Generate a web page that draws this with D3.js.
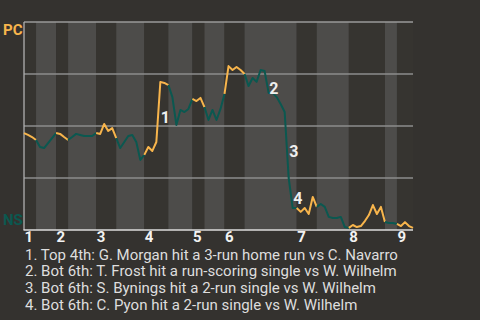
<!DOCTYPE html>
<html>
<head>
<meta charset="utf-8">
<script src="https://cdn.jsdelivr.net/npm/d3@7"></script>
<style>
  body { margin: 0; background: #34322f; }
  svg { display: block; font-family: Roboto, "Noto Sans", sans-serif; }
</style>
</head>
<body>
<svg id="chart" width="480" height="320"></svg>
<script>
// plays per half inning (top 1st .. top 9th)
var halfPlays = [3, 5, 3, 7, 5, 7, 6, 6, 3, 5, 5, 13, 5, 8, 9, 3, 4]
var innings = ["1", "2", "3", "4", "5", "6", "7", "8", "9"]
// PC win probability (%) after each play
var winProb = [
  46.6, 45.7, 44.7, 43.3, 39.9, 39.4, 41.8, 44.2, 46.6, 46.2,
  44.7, 43.3, 44.7, 46.2, 45.7, 45.2, 45.2, 45.2, 46.6, 46.2,
  51.0, 47.6, 49.0, 44.2, 39.4, 42.3, 45.2, 45.7, 42.3, 33.7,
  36.1, 39.9, 38.0, 42.3, 71.2, 70.7, 69.7, 63.9, 50.5, 57.7,
  56.7, 58.2, 63.0, 62.0, 63.5, 59.1, 52.9, 57.7, 52.9, 58.2,
  65.4, 78.8, 76.9, 78.4, 76.9, 75.0, 69.2, 73.1, 71.2, 76.9,
  76.4, 65.9, 65.9, 63.9, 60.6, 56.7, 25.0, 10.6, 10.6, 8.7,
  10.6, 7.7, 15.9, 11.1, 12.5, 11.1, 6.3, 5.8, 5.8, 6.3,
  1.4, 1.0, 2.4, 1.4, 1.9, 4.3, 7.2, 12.0, 7.7, 11.1,
  3.8, 3.4, 3.4, 2.9, 1.9, 3.8, 1.9, 1.0
]
var events = [34, 61, 66, 67]
var notes = [
  "1. Top 4th: G. Morgan hit a 3-run home run vs C. Navarro",
  "2. Bot 6th: T. Frost hit a run-scoring single vs W. Wilhelm",
  "3. Bot 6th: S. Bynings hit a 2-run single vs W. Wilhelm",
  "4. Bot 6th: C. Pyon hit a 2-run single vs W. Wilhelm"
]
var gridVals = [25, 50, 75, 100]

var orange = "#f8b54c", teal = "#0b5850"
var svg = d3.select("#chart")
var total = d3.sum(halfPlays)
var x = d3.scaleLinear().domain([0, total]).range([24, 413])
var y = d3.scaleLinear().domain([0, 100]).range([230, 22])

// half inning start indexes
var starts = [0]
halfPlays.forEach(function(n, i) { starts.push(starts[i] + n) })

// bands
svg.append("g").selectAll("rect").data(halfPlays).join("rect")
  .attr("x", function(d, i) { return x(starts[i]) })
  .attr("width", function(d, i) { return x(starts[i + 1]) - x(starts[i]) })
  .attr("y", y(100)).attr("height", y(0) - y(100))
  .attr("fill", function(d, i) { return i % 2 ? "#4d4c4a" : "#363430" })

// grid
svg.append("g").selectAll("line").data(gridVals).join("line")
  .attr("x1", x(0)).attr("x2", x(total))
  .attr("y1", function(d) { return y(d) }).attr("y2", function(d) { return y(d) })
  .attr("stroke", function(d) { return d == 100 ? "#9a9a9a" : "#8c8c8c" })
  .attr("stroke-width", 1.3)
svg.append("line").attr("x1", x(0)).attr("x2", x(0)).attr("y1", y(100)).attr("y2", y(0))
  .attr("stroke", "#b0b0b0").attr("stroke-width", 1.3)
svg.append("line").attr("x1", x(0) - 0.5).attr("x2", x(total)).attr("y1", y(0)).attr("y2", y(0))
  .attr("stroke", "#dcdcdc").attr("stroke-width", 1.5)

// line, coloured per half inning
var line = d3.line().x(function(d) { return x(d[0]) }).y(function(d) { return y(d[1]) })
halfPlays.forEach(function(n, h) {
  var pts = []
  for (var i = starts[h]; i <= starts[h + 1]; i++) pts.push([i, winProb[i]])
  svg.append("path").attr("d", line(pts)).attr("fill", "none")
    .attr("stroke", h % 2 ? teal : orange).attr("stroke-width", 2)
    .attr("stroke-linejoin", "round")
})

// event labels
svg.append("g").selectAll("text").data(events).join("text")
  .attr("x", function(d) { return x(d) + 0.5 })
  .attr("y", function(d) { return (y(winProb[d - 1]) + y(winProb[d])) / 2 + 6 })
  .attr("dominant-baseline", "central")
  .attr("fill", "#eeeeee").attr("font-size", 16).attr("font-weight", "bold")
  .text(function(d, i) { return i + 1 })

// team labels
svg.append("text").attr("x", 3).attr("y", 35).attr("fill", orange)
  .attr("font-size", 15).attr("font-weight", "bold").text("PC")
svg.append("text").attr("x", 3).attr("y", 225).attr("fill", teal)
  .attr("font-size", 15).attr("font-weight", "bold").text("NS")

// inning numbers
svg.append("g").selectAll("text").data(innings).join("text")
  .attr("x", function(d, i) { return x(starts[i * 2]) + 0.5 })
  .attr("y", 242)
  .attr("fill", "#f2f2f2").attr("font-size", 15).attr("font-weight", "bold")
  .text(function(d) { return d })

// notes
svg.append("g").selectAll("text").data(notes).join("text")
  .attr("x", 25).attr("y", function(d, i) { return 259.5 + i * 16.8 })
  .attr("fill", "#dedede").attr("font-size", 15)
  .text(function(d) { return d })
</script>
</body>
</html>
